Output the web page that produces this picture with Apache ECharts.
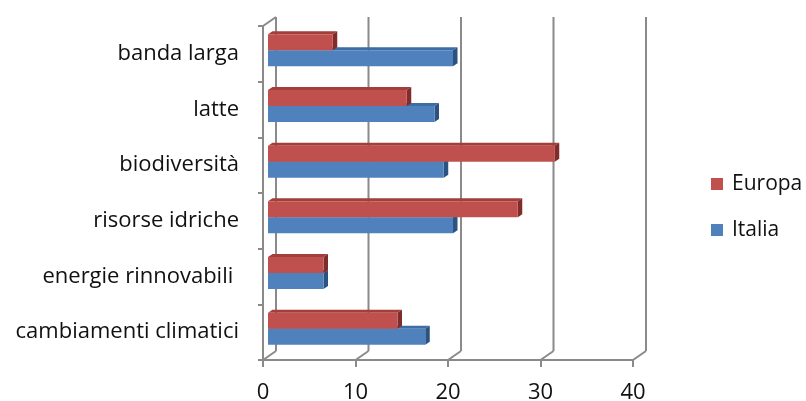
<!DOCTYPE html>
<html>
<head>
<meta charset="utf-8">
<script src="https://cdn.jsdelivr.net/npm/echarts@6/dist/echarts.min.js"></script>
<style>
  html, body { margin: 0; padding: 0; background: #ffffff; }
  #chart { width: 806px; height: 401px; }
</style>
</head>
<body>
<div id="chart"></div>
<script>
// Categories listed bottom to top, as on the chart
const categories = ['cambiamenti climatici', 'energie rinnovabili ', 'risorse idriche', 'biodiversità', 'latte', 'banda larga'];
const europa = [14, 6, 27, 31, 15, 7];
const italia = [17, 6, 20, 19, 18, 20];
const xTicks = [0, 10, 20, 30, 40];

// Pseudo-3D styling
const FONT = 'Open Sans';
const TEXT_COLOR = '#111';
const GRID_COLOR = '#8a8a8a';
const WALL_DX = 13, WALL_DY = -9;     // depth of the floor / back wall
const BAR_DX = 5, BAR_DY = -3.5;      // where the bar front face sits in depth
const BAR_DEPTH_X = 4.5, BAR_DEPTH_Y = -3;
const BAR_H = 16;

const palette = {
  Europa: { front: '#C0504D', top: '#A33E3B', side: '#7F2C2A' },
  Italia: { front: '#4F81BD', top: '#3E6CA4', side: '#2C5282' }
};

function boxRenderer(name, above) {
  const c = palette[name];
  return function (params, api) {
    const cat = api.value(0);
    const val = api.value(1);
    const start = api.coord([0, cat]);
    const end = api.coord([val, cat]);
    const cy = start[1] + BAR_DY;
    const y0 = above ? cy - BAR_H : cy;
    const y1 = above ? cy : cy + BAR_H;
    const x0 = start[0] + BAR_DX;
    const x1 = end[0] + BAR_DX;
    const dx = BAR_DEPTH_X, dy = BAR_DEPTH_Y;
    return {
      type: 'group',
      children: [
        { type: 'polygon', shape: { points: [[x0, y0], [x1, y0], [x1 + dx, y0 + dy], [x0 + dx, y0 + dy]] }, style: { fill: c.top } },
        { type: 'polygon', shape: { points: [[x1, y0], [x1 + dx, y0 + dy], [x1 + dx, y1 + dy], [x1, y1]] }, style: { fill: c.side } },
        { type: 'rect', shape: { x: x0, y: y0, width: x1 - x0, height: y1 - y0 }, style: { fill: c.front } }
      ]
    };
  };
}

function wallRenderer(params, api) {
  const v = api.value(0);
  const band = api.size([0, 1])[1];
  const bottom = api.coord([v, 0]);
  const topC = api.coord([v, categories.length - 1]);
  const x = bottom[0];
  const yb = bottom[1] + band / 2;
  const yt = topC[1] - band / 2;
  const st = { stroke: GRID_COLOR, lineWidth: 2, fill: null };
  const children = [
    { type: 'line', shape: { x1: x, y1: yb, x2: x + WALL_DX, y2: yb + WALL_DY }, style: st },
    { type: 'line', shape: { x1: x + WALL_DX, y1: yb + WALL_DY, x2: x + WALL_DX, y2: yt + WALL_DY }, style: st }
  ];
  if (v === xTicks[0]) {
    children.push({ type: 'line', shape: { x1: x, y1: yt, x2: x + WALL_DX, y2: yt + WALL_DY }, style: st });
  }
  return { type: 'group', children: children };
}

const chart = echarts.init(document.getElementById('chart'), null, { renderer: 'canvas' });

chart.setOption({
  animation: false,
  backgroundColor: '#ffffff',
  textStyle: { fontFamily: FONT },
  grid: { left: 263, top: 26, width: 370, height: 334, containLabel: false, outerBoundsMode: 'none' },
  legend: {
    orient: 'vertical',
    left: 711,
    top: 172,
    padding: 0,
    icon: 'rect',
    itemWidth: 12,
    itemHeight: 12,
    itemGap: 22,
    data: [
      { name: 'Europa', itemStyle: { color: palette.Europa.front } },
      { name: 'Italia', itemStyle: { color: palette.Italia.front } }
    ],
    textStyle: { fontFamily: FONT, fontSize: 21, color: TEXT_COLOR, lineHeight: 24, padding: [0, 0, 0, 4] }
  },
  xAxis: {
    type: 'value',
    min: 0,
    max: 40,
    interval: 10,
    axisLine: { show: true, lineStyle: { color: GRID_COLOR, width: 2 } },
    axisTick: { show: true, length: 7, lineStyle: { color: GRID_COLOR, width: 2 } },
    splitLine: { show: false },
    axisLabel: { fontFamily: FONT, fontSize: 22, color: TEXT_COLOR, margin: 22, lineHeight: 22,
      customValues: xTicks }
  },
  yAxis: {
    type: 'category',
    data: categories,
    axisLine: { show: true, lineStyle: { color: GRID_COLOR, width: 2 } },
    axisTick: { show: true, length: 5, lineStyle: { color: GRID_COLOR, width: 2 } },
    splitLine: { show: false },
    axisLabel: { fontFamily: FONT, fontSize: 22, color: TEXT_COLOR, margin: 24, padding: [8, 0, 0, 0] }
  },
  series: [
    {
      name: 'walls',
      type: 'custom',
      silent: true,
      clip: false,
      z: 1,
      encode: { x: 0, y: 1 },
      data: xTicks.map(v => [v, 0]),
      renderItem: wallRenderer
    },
    {
      name: 'Italia',
      type: 'custom',
      clip: false,
      z: 2,
      itemStyle: { color: palette.Italia.front },
      encode: { x: 1, y: 0 },
      data: italia.map((v, i) => [i, v]),
      renderItem: boxRenderer('Italia', false)
    },
    {
      name: 'Europa',
      type: 'custom',
      clip: false,
      z: 3,
      itemStyle: { color: palette.Europa.front },
      encode: { x: 1, y: 0 },
      data: europa.map((v, i) => [i, v]),
      renderItem: boxRenderer('Europa', true)
    }
  ]
});
</script>
</body>
</html>
